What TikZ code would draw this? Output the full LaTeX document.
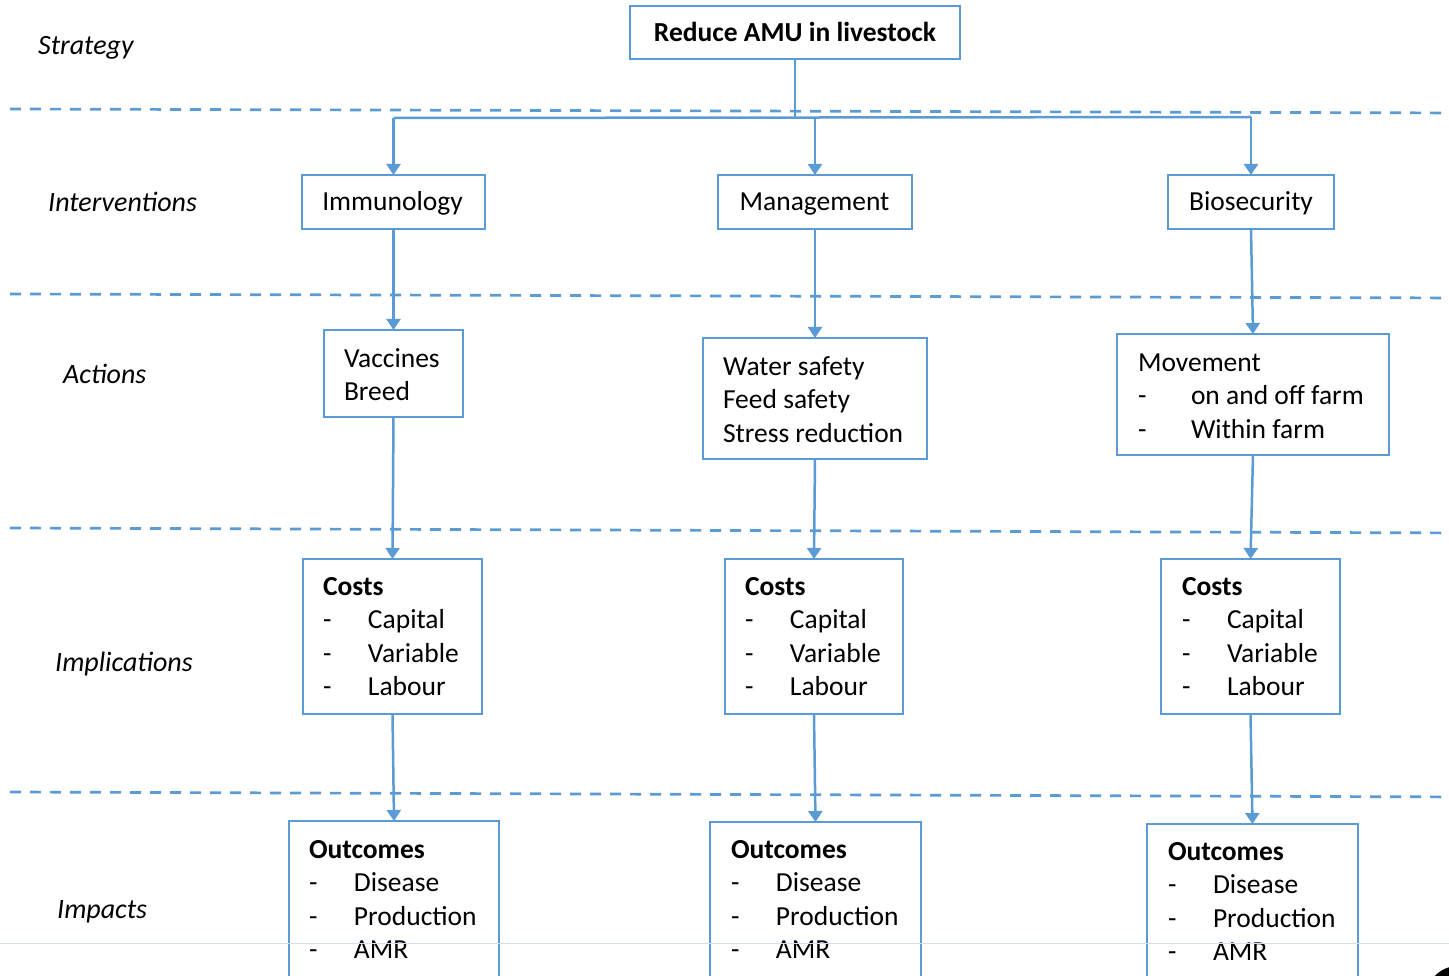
\documentclass[tikz,border=0pt]{standalone}
\usepackage{fontspec}
\setmainfont{Carlito}
\usetikzlibrary{arrows.meta}
\definecolor{officeblue}{HTML}{5B9BD5}
\definecolor{pagerule}{HTML}{D6E0EA}
\begin{document}
\begin{tikzpicture}[x=1pt,y=-1pt,
  box/.style={draw=officeblue,line width=2pt,rectangle,inner sep=0pt,outer sep=0pt,anchor=north west},
  titlebox/.style={box,anchor=center},
  ttl/.style={anchor=base,inner sep=0pt,outer sep=0pt,font=\fontsize{27.5}{33.6}\selectfont},
  txt/.style={anchor=base west,inner sep=0pt,outer sep=0pt,font=\fontsize{27.5}{33.6}\selectfont},
  lvl/.style={anchor=base west,inner sep=0pt,font=\fontsize{28}{33}\selectfont\itshape},
  sep/.style={officeblue,line width=2.7pt,dash pattern=on 11pt off 9pt},
  conn/.style={officeblue,line width=2.5pt},
  arr/.style={conn,-{Triangle[width=14pt,length=11pt]}}]
\useasboundingbox (0,0) rectangle (1449,976);
\clip (0,0) rectangle (1449,976);

% level separators
\draw[sep] (10,109) -- (1469,113);
\draw[sep] (10,294) -- (1469,298);
\draw[sep] (10,528) -- (1469,533);
\draw[sep] (10,792) -- (1469,797);

% level names
\node[lvl] (lstrat) at (38,55) {Strategy};
\node[lvl] (linter) at (48,212) {Interventions};
\node[lvl] (lact) at (63,384) {Actions};
\node[lvl] (limpl) at (55,671) {Implications};
\node[lvl] (limpa) at (57,918) {Impacts};

% strategy and interventions
\node[titlebox,minimum width=330pt,minimum height=53pt] (red) at (795,32.5) {};
\node[ttl] (redt) at (795,41.5) {\textbf{Reduce AMU in livestock}};
\node[titlebox,minimum width=183pt,minimum height=54pt] (imm) at (393.5,202) {};
\node[ttl] (immt) at (392.5,211) {Immunology};
\node[titlebox,minimum width=194pt,minimum height=54pt] (mgt) at (815,202) {};
\node[ttl] (mgtt) at (814.5,211) {Management};
\node[titlebox,minimum width=166pt,minimum height=54pt] (bio) at (1251,202) {};
\node[ttl] (biot) at (1251,211) {Biosecurity};

% actions
\node[box,minimum width=139pt,minimum height=87pt] (vac) at (324,330) {};
\node[txt] (vact) at (344,367) {\begin{tabular}[t]{@{}l@{}}Vaccines\\Breed\end{tabular}};
\node[box,minimum width=224pt,minimum height=121pt] (wat) at (703,338) {};
\node[txt] (watt) at (723,375) {\begin{tabular}[t]{@{}l@{}}Water safety\\Feed safety\\Stress reduction\end{tabular}};
\node[box,minimum width=272pt,minimum height=121pt] (mov) at (1117,334) {};
\node[txt] (movt) at (1138,371) {\begin{tabular}[t]{@{}p{53pt}@{}l@{}}\multicolumn{2}{@{}l}{Movement}\\-&on and off farm\\-&Within farm\end{tabular}};

% implications
\newcommand\costlist{\begin{tabular}[t]{@{}p{45pt}@{}l@{}}\multicolumn{2}{@{}l}{\textbf{Costs}}\\-&Capital\\-&Variable\\-&Labour\end{tabular}}
\node[box,minimum width=179pt,minimum height=155pt] (c1) at (303,559) {};
\node[txt] (c1t) at (323,595) {\costlist};
\node[box,minimum width=178pt,minimum height=155pt] (c2) at (725,559) {};
\node[txt] (c2t) at (745,595) {\costlist};
\node[box,minimum width=179pt,minimum height=155pt] (c3) at (1161,559) {};
\node[txt] (c3t) at (1182,595) {\costlist};

% impacts
\newcommand\outlist{\begin{tabular}[t]{@{}p{45pt}@{}l@{}}\multicolumn{2}{@{}l}{\textbf{Outcomes}}\\-&Disease\\-&Production\\-&AMR\end{tabular}}
\node[box,minimum width=210pt,minimum height=180pt] (o1) at (289,821) {};
\node[txt] (o1t) at (309,858) {\outlist};
\node[box,minimum width=211pt,minimum height=180pt] (o2) at (710,822) {};
\node[txt] (o2t) at (731,858) {\outlist};
\node[box,minimum width=211pt,minimum height=180pt] (o3) at (1147,824) {};
\node[txt] (o3t) at (1168,860) {\outlist};

% branching from the strategy
\coordinate (hub) at (795,117);
\coordinate (hl) at (393.5,118);
\coordinate (hm) at (815,117.5);
\coordinate (hr) at (1251,117);
\draw[conn] (red.south) -- (hub);
\draw[conn] (hl) -- (hr);
\draw[arr] (hl) -- (imm.north);
\draw[arr] (hm) -- (mgt.north);
\draw[arr] (hr) -- (bio.north);

% downward chains
\draw[arr] (imm.south) -- (vac.north);
\draw[arr] (mgt.south) -- (wat.north);
\draw[arr] (bio.south) -- (mov.north);
\draw[arr] (vac.south) -- (c1.north);
\draw[arr] (wat.south) -- (c2.north);
\draw[arr] (mov.south) -- (c3.north);
\draw[arr] (c1.south) -- (o1.north);
\draw[arr] (c2.south) -- (o2.north);
\draw[arr] (c3.south) -- (o3.north);

% page edge rule and corner mark
\draw[pagerule,line width=1pt] (0,943) -- (1449,943);
\fill[black] (1458,998) circle[radius=32];
\end{tikzpicture}
\end{document}
